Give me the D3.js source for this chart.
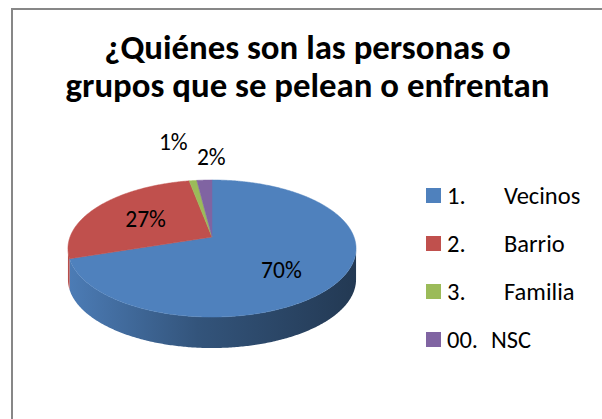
<!DOCTYPE html>
<html><head><meta charset="utf-8">
<script src="https://cdn.jsdelivr.net/npm/d3@7"></script>
<style>body{margin:0;background:#fff}svg{display:block}</style>
</head><body>
<script>
// ---- data ----
const categories = ["Vecinos", "Barrio", "Familia", "NSC"];
const legendNumbers = ["1.", "2.", "3.", "00."];
const values = [70, 27, 1, 2];
const colors = ["#4F81BD", "#C0504D", "#9BBB59", "#8064A2"];
const titleLines = ["¿Quiénes son las personas o", "grupos que se pelean o enfrentan"];

// ---- layout ----
const W = 602, H = 419;
const FONT = "Carlito, Calibri, Lato, sans-serif";
const svg = d3.select("body").append("svg").attr("width", W).attr("height", H);
const defs = svg.append("defs");

// frame
svg.append("rect").attr("x", 12).attr("y", 9).attr("width", 700).attr("height", 600)
  .attr("fill", "#fff").attr("stroke", "#878787").attr("stroke-width", 2);

// title (fit to width)
const tl = svg.append("g").selectAll("text").data(titleLines).join("text")
  .attr("x", 307.5).attr("y", (d, i) => 59 + i * 38)
  .attr("text-anchor", "middle").attr("font-family", FONT).attr("font-weight", "bold")
  .attr("font-size", 20).attr("fill", "#000").text(d => d);
const w2 = tl.nodes()[1].getComputedTextLength();
tl.attr("font-size", 20 * 484 / w2);

// pie projection (Excel-like 3D perspective)
const cx = 212, cy = 237, A = 142, B = 66.6, k = 0.168, depth = 31;
function proj(r, t) {
  const u = r * Math.sin(t), w = r * Math.cos(t), d = 1 + k * w;
  return [cx + A * u / d, cy - B * w / d];
}
const pie = d3.pie().sort(null).value(d => d);
const arcs = pie(values);
const line = d3.line();

function arcPts(r, a0, a1, dy) {
  const n = Math.max(2, Math.ceil((a1 - a0) / 0.01));
  return d3.range(n + 1).map(i => {
    const p = proj(r, a0 + (a1 - a0) * i / n);
    return [p[0], p[1] + dy];
  });
}

// sides (front-facing part only)
const tR = Math.acos(-k), tL = 2 * Math.PI - Math.acos(-k);
arcs.forEach((a, i) => {
  const s = Math.max(a.startAngle, tR), e = Math.min(a.endAngle, tL);
  if (e <= s) return;
  const c = d3.color(colors[i]);
  const g = defs.append("linearGradient").attr("id", "side" + i)
    .attr("gradientUnits", "userSpaceOnUse").attr("x1", 68).attr("x2", 356).attr("y1", 0).attr("y2", 0);
  g.append("stop").attr("offset", 0).attr("stop-color", c.darker(0.1));
  g.append("stop").attr("offset", 0.45).attr("stop-color", c.darker(1.2));
  g.append("stop").attr("offset", 1).attr("stop-color", c.darker(2.3));
  const top = arcPts(1, s, e, 0), bot = arcPts(1, s, e, depth).reverse();
  svg.append("path").attr("d", line(top.concat(bot)) + "Z").attr("fill", `url(#side${i})`);
});

// top faces
arcs.forEach((a, i) => {
  const pts = [proj(0, 0)].concat(arcPts(1, a.startAngle, a.endAngle, 0));
  svg.append("path").attr("d", line(pts) + "Z").attr("fill", colors[i])
    .attr("stroke", colors[i]).attr("stroke-width", 0.5);
});

// data labels
const total = d3.sum(values);
const labels = arcs.map((a, i) => {
  const mid = (a.startAngle + a.endAngle) / 2;
  const pct = Math.round(a.data / total * 100) + "%";
  const inside = a.data / total >= 0.05;
  let p;
  if (inside) {
    p = proj(0.57, mid);
    p[1] += depth * Math.max(0, -Math.cos(mid)) * 0.5;
  } else {
    p = proj(1.5, mid);
  }
  return {text: pct, x: p[0], y: p[1], inside};
});
const lt = svg.selectAll("text.lbl").data(labels).join("text").attr("class", "lbl")
  .attr("font-family", FONT).attr("font-size", 23.5).attr("fill", "#000")
  .attr("text-anchor", "middle").attr("dominant-baseline", "central").text(d => d.text);
// resolve overlap of outside labels
const out = labels.filter(d => !d.inside);
const lw = 40, lh = 17;
for (let j = 1; j < out.length; j++) {
  const a = out[j - 1], b = out[j];
  const ox = lw - Math.abs(b.x - a.x);
  if (ox > 0 && Math.abs(b.y - a.y) < lh) {
    a.x -= ox / 2; b.x += ox / 2 - 2; a.y -= lh * 0.95;
  }
}
lt.attr("x", d => d.x).attr("y", d => d.y);

// legend
const leg = svg.append("g");
categories.forEach((c, i) => {
  const y = 204 + i * 48;
  leg.append("rect").attr("x", 426).attr("y", y - 16).attr("width", 15).attr("height", 15).attr("fill", colors[i]);
  const num = leg.append("text").attr("x", 447).attr("y", y).attr("font-family", FONT).attr("font-size", 24.5)
    .attr("fill", "#000").text(legendNumbers[i]);
  const nw = num.node().getComputedTextLength();
  const nx = legendNumbers[i].length <= 2 ? 504 : 447 + nw + 13;
  leg.append("text").attr("x", nx).attr("y", y).attr("font-family", FONT).attr("font-size", 24.5)
    .attr("fill", "#000").text(c);
});
</script>
</body></html>
